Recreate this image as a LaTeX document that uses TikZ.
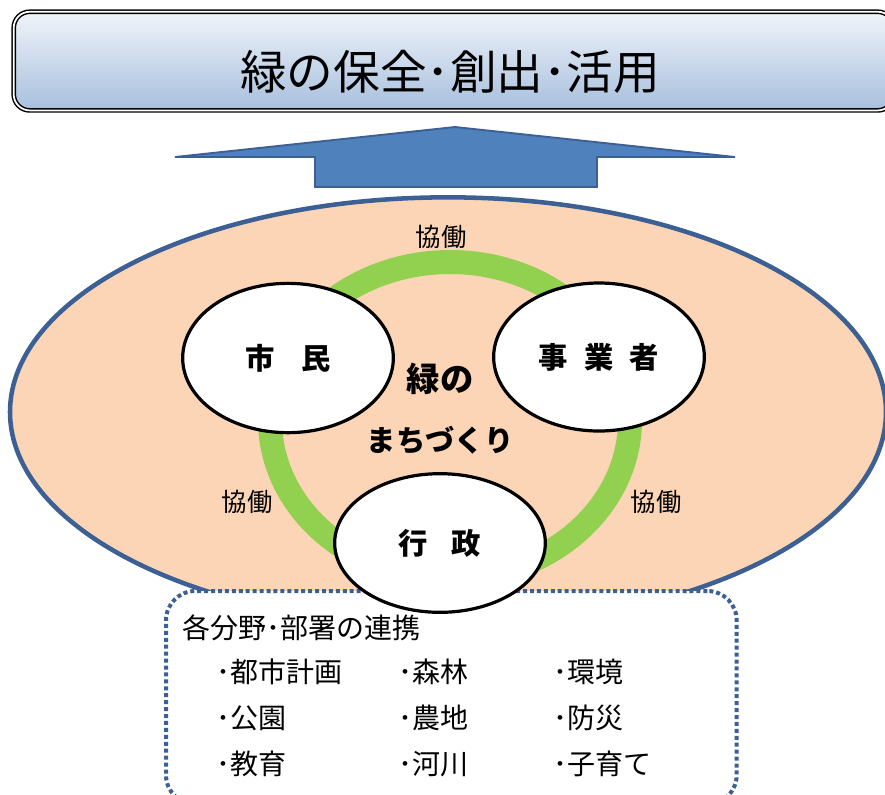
\documentclass[tikz,border=0pt]{standalone}
\usepackage{fontspec}
\setmainfont{Noto Sans CJK JP}
\usetikzlibrary{shapes.geometric}
\definecolor{edgeblue}{HTML}{3C6094}
\definecolor{arrowblue}{HTML}{4F81BD}
\definecolor{peach}{HTML}{FBD5B5}
\definecolor{ringgreen}{HTML}{92D050}
\definecolor{titletop}{HTML}{F0F4FA}
\definecolor{titlebot}{HTML}{A7BFDD}
\tikzset{
  actor/.style={ellipse, draw=black, line width=2.4pt, fill=white, inner sep=0pt},
  actortext/.style={font=\bfseries\fontsize{22}{24}\selectfont},
  kyodo/.style={font=\fontsize{19}{20}\selectfont, inner sep=0pt},
  item/.style={font=\fontsize{21}{24}\selectfont, anchor=west, inner sep=0pt},
}
\begin{document}
\begin{tikzpicture}[x=0.75pt,y=-0.75pt]
\useasboundingbox (0,0) rectangle (885,794);
\clip (0,0) rectangle (885,794);
% title box
\node[draw=black, line width=1.1pt, double=white, double distance=1.3pt,
      rounded corners=12pt, top color=titletop, bottom color=titlebot,
      minimum width=660pt, minimum height=74pt, anchor=north west,
      inner sep=0pt] (title) at (13,11) {};
\node[font=\fontsize{35}{38}\selectfont, inner sep=0pt] (titletext) at (450,72) {緑の保全･創出･活用};
% arrow
\draw[fill=arrowblue, draw=edgeblue, line width=1.4pt, line join=miter]
  (455,127) -- (735,157) -- (597,157) -- (597,187) -- (315,187) -- (315,157) -- (175,157) -- cycle;
% big ellipse
\node[ellipse, draw=edgeblue, line width=3.4pt, fill=peach,
      minimum width=657pt, minimum height=322pt, inner sep=0pt] (field) at (448,412) {};
% green ring
\node[ellipse, draw=ringgreen, line width=18pt, minimum width=270pt, minimum height=237pt, inner sep=0pt] (ring) at (450,420) {};
% dotted box
\node[draw=edgeblue, line width=3pt, dash pattern=on 3pt off 2.2pt, fill=white,
      rounded corners=22pt, anchor=north west, minimum width=428pt, minimum height=160pt,
      inner sep=0pt] (box) at (164,589) {};
% actors
\node[actor, minimum width=158pt, minimum height=112pt] (shimin) at (288,358) {};
\node[actortext] at (shimin) {市\hspace{0.9em}民};
\node[actor, minimum width=158pt, minimum height=111pt] (jigyo) at (599,357) {};
\node[actortext] at (jigyo) {事\hspace{0.55em}業\hspace{0.55em}者};
\node[actor, minimum width=158pt, minimum height=104pt] (gyosei) at (440,543) {};
\node[actortext] at (gyosei) {行\hspace{0.8em}政};
% centre text
\node[font=\bfseries\fontsize{25}{28}\selectfont, inner sep=0pt] (midori) at (440,379) {緑の};
\node[font=\bfseries\fontsize{22}{26}\selectfont, inner sep=0pt] (machi) at (440,440) {まちづくり};
% kyodo labels
\node[kyodo] (k1) at (441,237) {協働};
\node[kyodo] (k2) at (247,502) {協働};
\node[kyodo] (k3) at (656,502) {協働};
% box text
\node[font=\fontsize{21}{24}\selectfont, anchor=west, inner sep=0pt] (renkei) at (182,628) {各分野･部署の連携};
\node[item] (a1) at (216,672) {･都市計画};
\node[item] (a2) at (216,718) {･公園};
\node[item] (a3) at (216,764) {･教育};
\node[item] (b1) at (398,672) {･森林};
\node[item] (b2) at (398,718) {･農地};
\node[item] (b3) at (398,764) {･河川};
\node[item] (c1) at (553,672) {･環境};
\node[item] (c2) at (553,718) {･防災};
\node[item] (c3) at (553,764) {･子育て};
\end{tikzpicture}
\end{document}
